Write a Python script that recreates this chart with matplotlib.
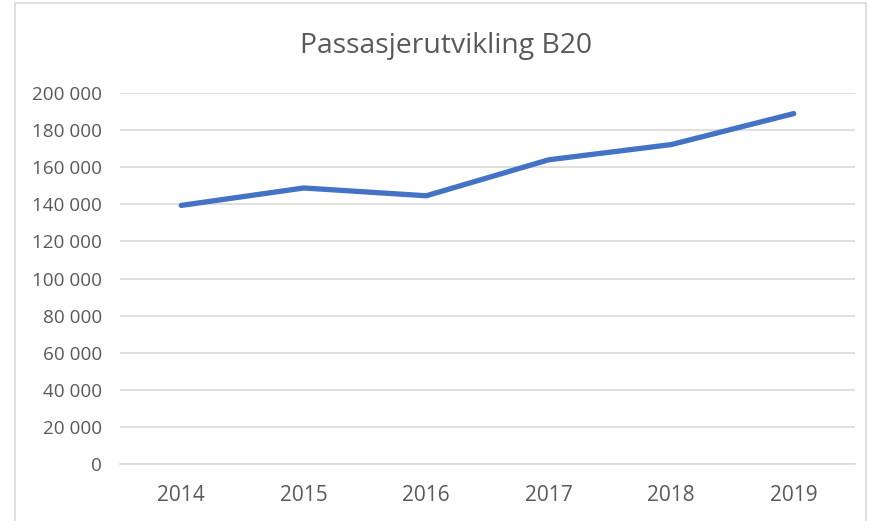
import matplotlib.pyplot as plt
from matplotlib.patches import Rectangle
from matplotlib.ticker import FuncFormatter, MultipleLocator

years = ['2014', '2015', '2016', '2017', '2018', '2019']
passengers = [139400, 148800, 144600, 164000, 172200, 188900]

W, H = 879, 521
fig = plt.figure(figsize=(W / 100, H / 100), dpi=100)
plt.rcParams['font.family'] = ['Open Sans', 'DejaVu Sans']

# chart frame like the excel chart border
fig.patches.append(Rectangle((15 / W, -0.1), (866 - 15) / W, 1.1 - 3 / H,
                             transform=fig.transFigure, fill=False,
                             edgecolor='#d9d9d9', linewidth=1.2))

ax = fig.add_axes([120 / W, 1 - 464 / H, (855 - 120) / W, (464 - 93) / H])
x = list(range(len(years)))
ax.plot(x, passengers, color='#4472c4', linewidth=3.8, solid_capstyle='round')

ax.set_xlim(-0.5, len(years) - 0.5)
ax.set_ylim(0, 200000)
ax.yaxis.set_major_locator(MultipleLocator(20000))
ax.yaxis.set_major_formatter(FuncFormatter(lambda v, p: f"{int(v):,}".replace(",", " ")))
ax.set_xticks(x)
ax.set_xticklabels(years)
ax.grid(axis='y', color='#d9d9d9', linewidth=1.2)
ax.set_axisbelow(True)
for s in ['top', 'right', 'left']:
    ax.spines[s].set_visible(False)
ax.spines['bottom'].set_color('#d9d9d9')
ax.spines['bottom'].set_linewidth(1.2)
ax.tick_params(length=0, colors='#595959')
ax.tick_params(axis='x', pad=15, labelsize=15)
ax.tick_params(axis='y', pad=13, labelsize=13.6)

fig.text(446.5 / W, 1 - 53 / H, 'Passasjerutvikling B20', ha='center', va='baseline',
         fontsize=20.4, color='#595959')

fig.savefig('out.png', dpi=100)
